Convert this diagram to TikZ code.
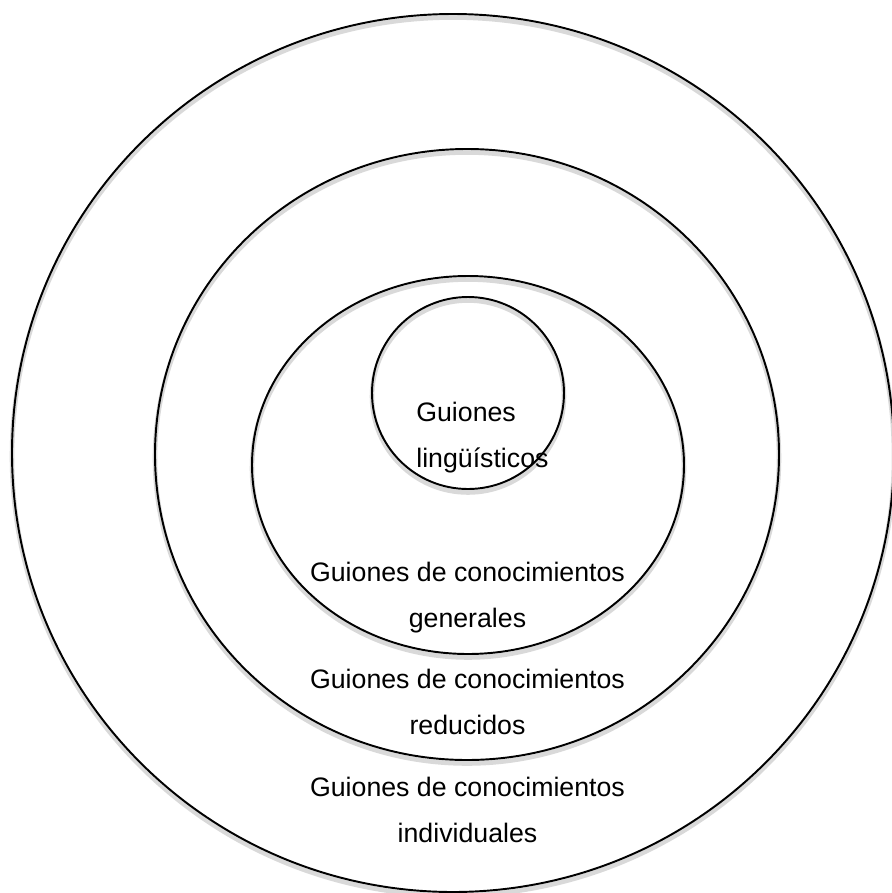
\documentclass[tikz,border=0pt]{standalone}
\usepackage{fontspec}
\setmainfont{Liberation Sans}
\usetikzlibrary{positioning}
\tikzset{
  ring/.style={draw=black,line width=1.1pt},
  ringshade/.style={draw=black!15,line width=2.6pt,yshift=-0.07cm},
  lbl/.style={font=\fontsize{15.2pt}{25.8pt}\selectfont,inner sep=0pt},
}

\begin{document}
\begin{tikzpicture}
  \useasboundingbox (0,0) rectangle (17.84,-17.86);
  % rings, outermost first: centre x/y, radii x/y
  \foreach \cx/\cy/\rx/\ry in {9.06/-9.06/8.82/8.78,
                               9.34/-9.09/6.24/6.11,
                               9.36/-9.30/4.32/3.78,
                               9.36/-7.86/1.92/1.92}{
    \draw[ringshade] (\cx,\cy) ellipse [x radius=\rx, y radius=\ry];
    \draw[ring] (\cx,\cy) ellipse [x radius=\rx, y radius=\ry];
  }

  % labels (base = last line)
  \node[lbl,align=left,anchor=base west] (ling) at (8.32,-9.34) {Guiones\\lingüísticos};
  \node[lbl,align=center,anchor=base] (gen) at (9.35,-12.54) {Guiones de conocimientos\\generales};
  \node[lbl,align=center,anchor=base] (red) at (9.35,-14.68) {Guiones de conocimientos\\reducidos};
  \node[lbl,align=center,anchor=base] (ind) at (9.35,-16.84) {Guiones de conocimientos\\individuales};
\end{tikzpicture}
\end{document}
